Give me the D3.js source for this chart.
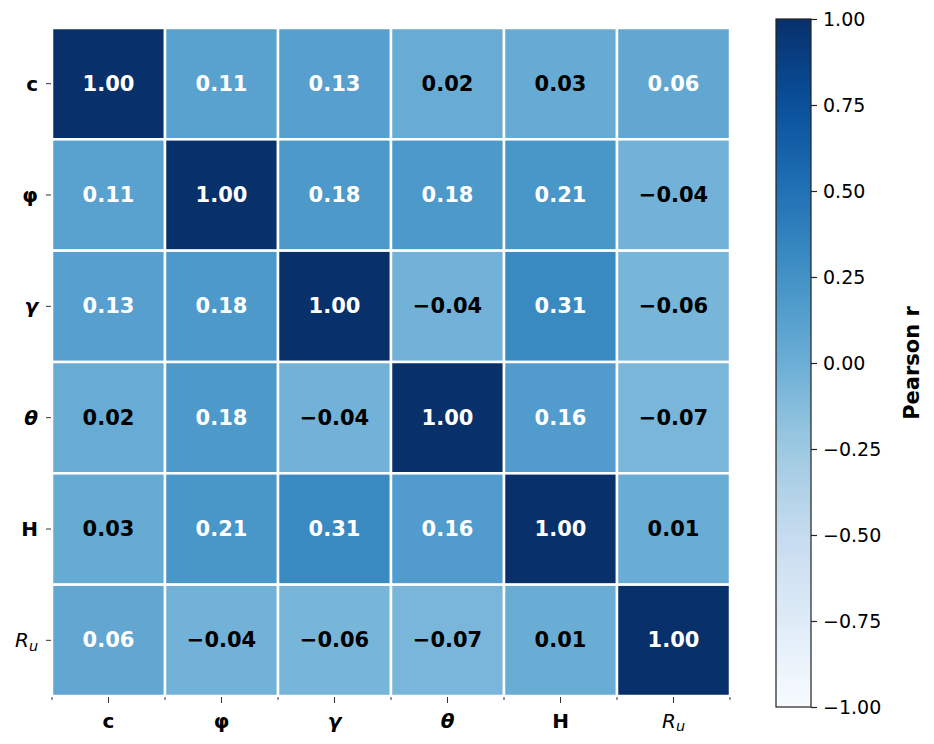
<!DOCTYPE html>
<html>
<head>
<meta charset="utf-8">
<script src="https://cdn.jsdelivr.net/npm/d3@7"></script>
<style>
  body { margin: 0; background: #fff; }
  text { font-family: "DejaVu Sans", sans-serif; }
</style>
</head>
<body>
<div id="container"></div>
<script>
var labels = ["c", "φ", "γ", "θ", "H", "Ru"];
var italicLabels = ["γ", "θ"];
var rows = [
    [1.00, 0.11, 0.13, 0.02, 0.03, 0.06],
    [0.11, 1.00, 0.18, 0.18, 0.21, -0.04],
    [0.13, 0.18, 1.00, -0.04, 0.31, -0.06],
    [0.02, 0.18, -0.04, 1.00, 0.16, -0.07],
    [0.03, 0.21, 0.31, 0.16, 1.00, 0.01],
    [0.06, -0.04, -0.06, -0.07, 0.01, 1.00]
];
var colorbarTicks = [1.00, 0.75, 0.50, 0.25, 0.00, -0.25, -0.50, -0.75, -1.00];
var blues = ["#f7fbff", "#deebf7", "#c6dbef", "#9ecae1", "#6baed6", "#4292c6", "#2171b5", "#08519c", "#08306b"];

var W = 934, H = 744;
var plotLeft = 52, plotRight = 730, plotTop = 28, plotBottom = 696;

var svg = d3.select("#container").append("svg")
    .attr("width", W)
    .attr("height", H);

// matplotlib style Blues: linear between the 9 brewer colours
var color = d3.scaleLinear()
    .domain(d3.range(blues.length).map(function (i) { return -1 + 2 * i / (blues.length - 1); }))
    .range(blues)
    .interpolate(d3.interpolateRgb)
    .clamp(true);

var x = d3.scaleBand().domain(labels).range([plotLeft, plotRight]);
var y = d3.scaleBand().domain(labels).range([plotTop, plotBottom]);
var fmt = d3.format(".2f");

var cells = [];
rows.forEach(function (r, i) {
    r.forEach(function (v, j) {
        cells.push({row: labels[i], col: labels[j], value: v});
    });
});

svg.append("g").selectAll("rect")
    .data(cells)
    .enter().append("rect")
    .attr("x", function (d) { return x(d.col); })
    .attr("y", function (d) { return y(d.row); })
    .attr("width", x.bandwidth())
    .attr("height", y.bandwidth())
    .attr("fill", function (d) { return color(d.value); })
    .attr("stroke", "#fff")
    .attr("stroke-width", 2.5);

svg.append("g").selectAll("text")
    .data(cells)
    .enter().append("text")
    .attr("x", function (d) { return x(d.col) + x.bandwidth() / 2; })
    .attr("y", function (d) { return y(d.row) + y.bandwidth() / 2; })
    .attr("text-anchor", "middle")
    .attr("dominant-baseline", "central")
    .attr("font-size", 21)
    .attr("font-weight", "bold")
    .attr("fill", function (d) { return d.value > 0.05 ? "#fff" : "#000"; })
    .text(function (d) { return fmt(d.value); });

var writeLabel = function (sel, d) {
    if (d === "Ru") {
        sel.attr("font-style", "italic").attr("font-weight", "normal");
        sel.append("tspan").text("R");
        sel.append("tspan").attr("font-size", "0.72em").attr("dy", "0.22em").text("u");
    } else {
        sel.attr("font-weight", "bold")
            .attr("font-style", italicLabels.indexOf(d) >= 0 ? "italic" : "normal")
            .text(d);
    }
};

// y axis
var yAxis = d3.axisLeft(y).tickSize(5).tickPadding(7).tickFormat("");
var gy = svg.append("g").attr("transform", "translate(" + (plotLeft - 1) + ",0)").call(yAxis);
gy.select(".domain").remove();
gy.selectAll(".tick line").attr("stroke", "#333");
gy.selectAll(".tick").append("text")
    .attr("x", -13)
    .attr("dy", "0.35em")
    .attr("text-anchor", "end")
    .attr("font-size", 20)
    .attr("fill", "#000")
    .each(function (d) { writeLabel(d3.select(this), d); });

// x axis with minor ticks at the cell edges
var gx = svg.append("g").attr("transform", "translate(0," + (plotBottom + 1) + ")");
var edges = labels.map(function (l) { return x(l); }).concat([plotRight]);
gx.selectAll("line.minor")
    .data(edges)
    .enter().append("line")
    .attr("class", "minor")
    .attr("x1", function (d) { return d; })
    .attr("x2", function (d) { return d; })
    .attr("y1", 0).attr("y2", 3)
    .attr("stroke", "#333");
var xAxis = d3.axisBottom(x).tickSize(6).tickFormat("");
gx.call(xAxis);
gx.select(".domain").remove();
gx.selectAll(".tick line").attr("stroke", "#333");
gx.selectAll(".tick").append("text")
    .attr("y", 31)
    .attr("text-anchor", "middle")
    .attr("font-size", 20)
    .attr("fill", "#000")
    .each(function (d) { writeLabel(d3.select(this), d); });

// colorbar
var cbX = 776, cbW = 35, cbTop = 19, cbBottom = 707;
var cy = d3.scaleLinear().domain([-1, 1]).range([cbBottom, cbTop]);
var grad = svg.append("defs").append("linearGradient")
    .attr("id", "cbgrad")
    .attr("x1", 0).attr("y1", 1).attr("x2", 0).attr("y2", 0);
grad.selectAll("stop")
    .data(d3.range(0, 1.0001, 0.05))
    .enter().append("stop")
    .attr("offset", function (d) { return d; })
    .attr("stop-color", function (d) { return color(-1 + 2 * d); });
svg.append("rect")
    .attr("x", cbX).attr("y", cbTop)
    .attr("width", cbW).attr("height", cbBottom - cbTop)
    .attr("fill", "url(#cbgrad)")
    .attr("stroke", "#222")
    .attr("stroke-width", 1.2);

var cbAxis = d3.axisRight(cy).tickValues(colorbarTicks).tickSize(6).tickPadding(6).tickFormat(fmt);
var gc = svg.append("g").attr("transform", "translate(" + (cbX + cbW) + ",0)").call(cbAxis);
gc.select(".domain").remove();
gc.selectAll(".tick line").attr("stroke", "#222").attr("stroke-width", 1.2);
gc.selectAll(".tick text")
    .attr("font-size", 19)
    .attr("font-family", "DejaVu Sans")
    .attr("fill", "#000");

svg.append("text")
    .attr("transform", "translate(912," + ((cbTop + cbBottom) / 2) + ") rotate(-90)")
    .attr("text-anchor", "middle")
    .attr("dominant-baseline", "central")
    .attr("font-size", 21)
    .attr("font-weight", "bold")
    .text("Pearson r");
</script>
</body>
</html>
